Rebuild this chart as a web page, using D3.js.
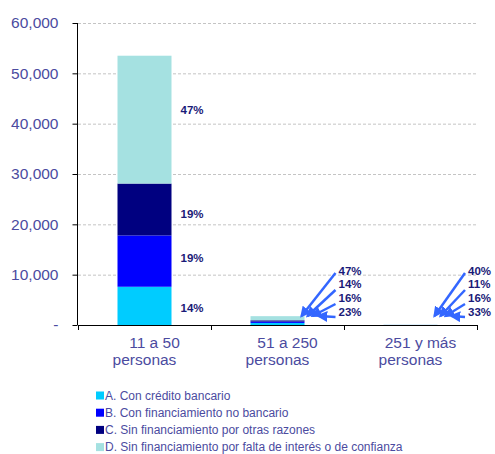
<!DOCTYPE html>
<html>
<head>
<meta charset="utf-8">
<script src="https://cdn.jsdelivr.net/npm/d3@7"></script>
<style>
  html, body { margin: 0; padding: 0; background: #fff; }
  svg { display: block; font-family: "Liberation Sans", Arial, sans-serif; }
</style>
</head>
<body>
<svg id="chart" width="495" height="454"></svg>
<script>
// ---- data ----
const categories = ["11 a 50 personas", "51 a 250 personas", "251 y más personas"];
const catLine1 = ["11 a 50", "51 a 250", "251 y más"];
const catLine2 = ["personas", "personas", "personas"];
const seriesNames = [
  "A. Con crédito bancario",
  "B. Con financiamiento no bancario",
  "C. Sin financiamiento por otras razones",
  "D. Sin financiamiento por falta de interés o de confianza"
];
const seriesA = [7600, 410, 13];
const seriesB = [10200, 280, 6];
const seriesC = [10300, 245, 5];
const seriesD = [25400, 820, 16];
const pctA = ["14%", "23%", "33%"];
const pctB = ["19%", "16%", "16%"];
const pctC = ["19%", "14%", "11%"];
const pctD = ["47%", "47%", "40%"];
const yTicks = [0, 10000, 20000, 30000, 40000, 50000, 60000];

const colors = ["#00CCFF", "#0000FF", "#000080", "#A5E1E1"];
const textColor = "#4B4BA0";
const labelColor = "#1A1A78";
const arrowColor = "#3366FF";

const series = [seriesA, seriesB, seriesC, seriesD];
const pcts = [pctA, pctB, pctC, pctD];
const rows = categories.map((c, i) => {
  const o = { cat: c };
  seriesNames.forEach((s, k) => o[s] = series[k][i]);
  return o;
});

const svg = d3.select("#chart");
const x = d3.scaleBand().domain(categories).range([78, 477]).padding(0);
const y = d3.scaleLinear().domain([0, 60000]).range([325, 23]);
const bw = x.bandwidth();
const barW = bw * 0.406;

// gridlines
svg.append("g").selectAll("line").data(yTicks.filter(d => d > 0)).join("line")
  .attr("x1", 78).attr("x2", 477)
  .attr("y1", d => y(d) + 0.5).attr("y2", d => y(d) + 0.5)
  .attr("stroke", "#C4C4C4").attr("stroke-width", 1).attr("stroke-dasharray", "3,2");

// stacked bars
const stack = d3.stack().keys(seriesNames)(rows);
stack.forEach((layer, k) => {
  svg.append("g").selectAll("rect").data(layer).join("rect")
    .attr("x", d => x(d.data.cat) + (bw - barW) / 2)
    .attr("width", barW)
    .attr("y", d => y(d[1]))
    .attr("height", d => Math.max(0, y(d[0]) - y(d[1])))
    .attr("fill", colors[k]);
});

// y axis
const yAxis = svg.append("g").attr("transform", "translate(77.5,0)")
  .call(d3.axisLeft(y).tickValues(yTicks).tickSize(5).tickPadding(14)
    .tickFormat(d => d === 0 ? "-" : d3.format(",")(d)));
yAxis.select(".domain").attr("stroke", "#000").attr("d", `M0,${y(60000)}V${y(0)}`);
yAxis.selectAll(".tick line").attr("stroke", "#000");
yAxis.selectAll(".tick text").attr("fill", textColor).attr("font-size", "15.5px")
  .attr("font-family", "Liberation Sans, Arial, sans-serif");

// x axis
const xAxis = svg.append("g").attr("transform", `translate(0,${y(0) + 0.5})`)
  .call(d3.axisBottom(x).tickSize(0).tickFormat(""));
xAxis.select(".domain").attr("stroke", "#000").attr("d", `M78,0H477`);
const edges = categories.map(c => x(c)).concat([x(categories[categories.length - 1]) + bw]);
svg.append("g").selectAll("line").data(edges).join("line")
  .attr("x1", d => Math.round(d) + 0.5).attr("x2", d => Math.round(d) + 0.5)
  .attr("y1", y(0)).attr("y2", y(0) + 5).attr("stroke", "#000");

// category labels
const catG = svg.append("g").attr("fill", textColor).attr("font-size", "15.5px").attr("text-anchor", "middle");
categories.forEach((c, i) => {
  const cx = x(c) + bw / 2;
  catG.append("text").attr("x", cx + 10).attr("y", y(0) + 23).text(catLine1[i]);
  catG.append("text").attr("x", cx).attr("y", y(0) + 40).text(catLine2[i]);
});

// data labels for first (large) bar: beside segments
const labelAdj = [2, -3, 4, -10];
const first = categories[0];
const lg = svg.append("g").attr("fill", labelColor).attr("font-size", "11.5px").attr("font-weight", "bold");
stack.forEach((layer, k) => {
  const d = layer[0];
  lg.append("text")
    .attr("x", x(first) + (bw - barW) / 2 + barW + 9)
    .attr("y", (y(d[0]) + y(d[1])) / 2 + labelAdj[k])
    .attr("dy", "0.35em")
    .text(pcts[k][0]);
});

// arrow annotations for small bars
const defs = svg.append("defs");
defs.append("marker").attr("id", "ah").attr("viewBox", "0 0 10 10")
  .attr("refX", 8).attr("refY", 5).attr("markerWidth", 4.4).attr("markerHeight", 4.4)
  .attr("orient", "auto")
  .append("path").attr("d", "M0,0L10,5L0,10z").attr("fill", arrowColor);

const base = y(0);
const labelYOff = [-54, -41, -27, -13];  // D, C, B, A (top to bottom)
const startYOff = [-52, -35, -21, -8];
const tipXOff = [24, 30, 35, 41];
[1, 2].forEach(i => {
  const cx = x(categories[i]) + bw / 2;
  const lx = i === 1 ? cx + 61 : cx + 57.5;
  const order = [3, 2, 1, 0];
  order.forEach((k, j) => {
    svg.append("line")
      .attr("x1", lx - 3).attr("y1", base + startYOff[j])
      .attr("x2", cx + tipXOff[j]).attr("y2", base - 9)
      .attr("stroke", arrowColor).attr("stroke-width", 2.5)
      .attr("marker-end", "url(#ah)");
    svg.append("text")
      .attr("x", lx).attr("y", base + labelYOff[j]).attr("dy", "0.35em")
      .attr("fill", labelColor).attr("font-size", "11.5px").attr("font-weight", "bold")
      .text(pcts[k][i]);
  });
});

// legend
const leg = svg.append("g").attr("font-size", "12px").attr("fill", textColor);
seriesNames.forEach((s, k) => {
  const cy = 395.5 + k * 17.2;
  leg.append("rect").attr("x", 96).attr("y", cy - 4).attr("width", 8).attr("height", 8).attr("fill", colors[k]);
  leg.append("text").attr("x", 105).attr("y", cy).attr("dy", "0.35em").text(s);
});
</script>
</body>
</html>
